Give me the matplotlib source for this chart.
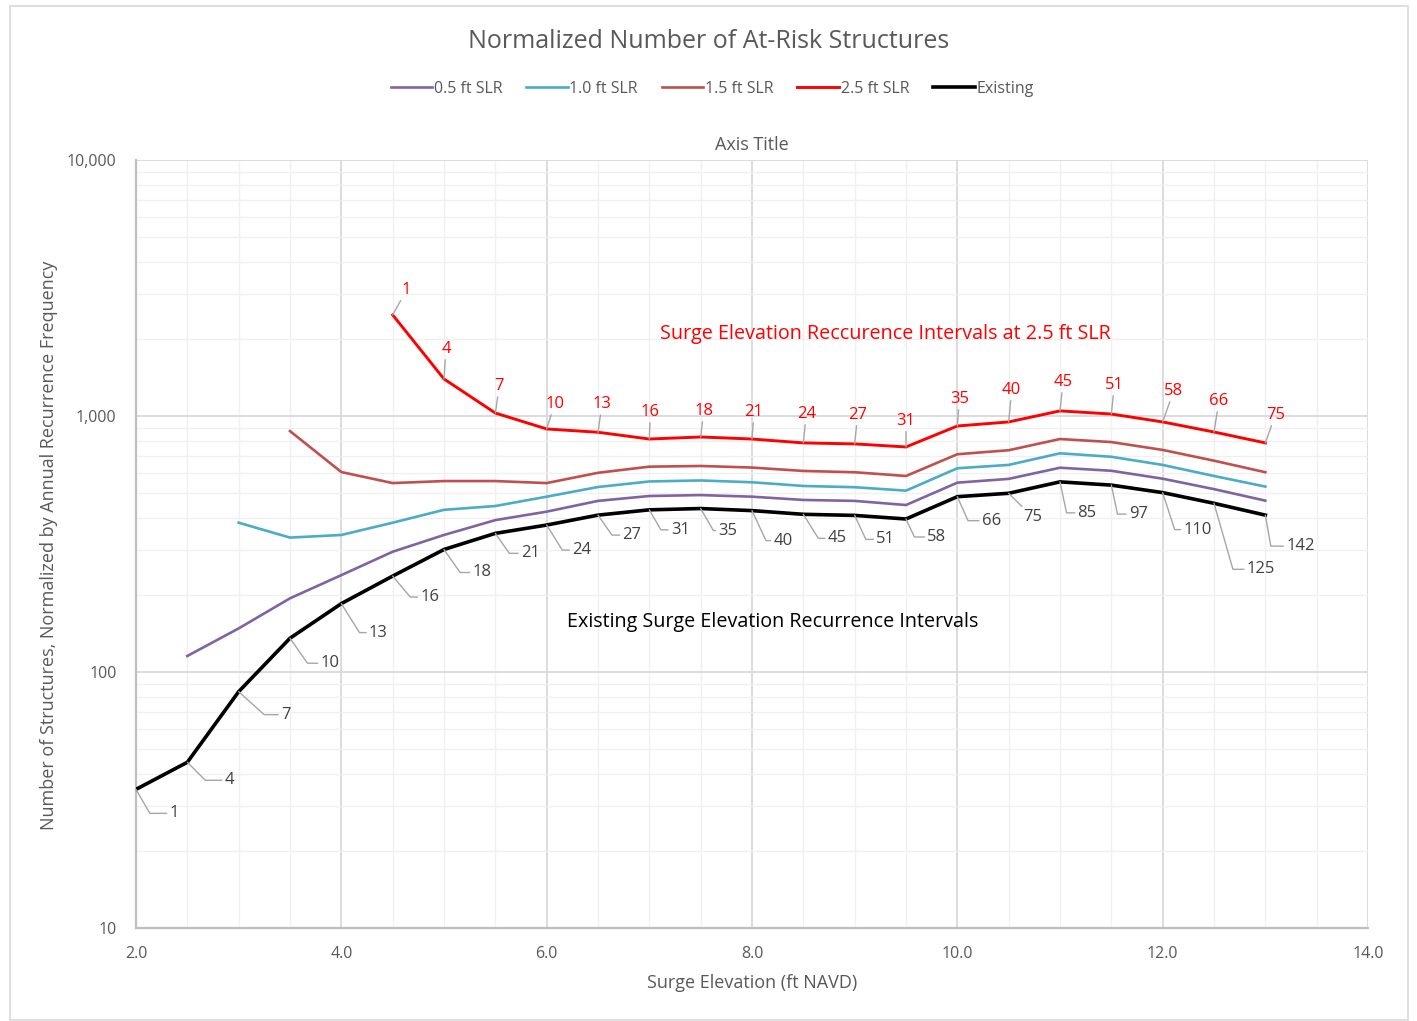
import math
import matplotlib
matplotlib.use("Agg")
import matplotlib.pyplot as plt
from matplotlib.ticker import FixedLocator, FuncFormatter, LogLocator, MultipleLocator, NullFormatter
from matplotlib.patches import Rectangle

plt.rcParams['font.family'] = ['Open Sans', 'DejaVu Sans']

# ---------------- data ----------------
x_existing = [2.0, 2.5, 3.0, 3.5, 4.0, 4.5, 5.0, 5.5, 6.0, 6.5, 7.0, 7.5,
              8.0, 8.5, 9.0, 9.5, 10.0, 10.5, 11.0, 11.5, 12.0, 12.5, 13.0]
existing = [34.8, 44.4, 83.8, 135.5, 185, 237, 301, 348, 375, 410, 430, 435,
            427, 413, 409, 396, 484, 499, 553, 537, 502, 456, 410]
existing_labels = ["1", "4", "7", "10", "13", "16", "18", "21", "24", "27", "31", "35",
                   "40", "45", "51", "58", "66", "75", "85", "97", "110", "125", "142"]

x_slr05 = [2.5, 3.0, 3.5, 4.0, 4.5, 5.0, 5.5, 6.0, 6.5, 7.0, 7.5,
           8.0, 8.5, 9.0, 9.5, 10.0, 10.5, 11.0, 11.5, 12.0, 12.5, 13.0]
slr05 = [115.5, 148, 194, 239, 295, 343, 392, 423, 466, 487, 491,
         484, 470, 466, 449, 549, 568, 628, 611, 569, 518, 467]

x_slr10 = [3.0, 3.5, 4.0, 4.5, 5.0, 5.5, 6.0, 6.5, 7.0, 7.5,
           8.0, 8.5, 9.0, 9.5, 10.0, 10.5, 11.0, 11.5, 12.0, 12.5, 13.0]
slr10 = [383, 335, 343, 383, 430, 445, 484, 528, 555, 560,
         551, 533, 527, 511, 625, 644, 715, 693, 644, 583, 530]

x_slr15 = [3.5, 4.0, 4.5, 5.0, 5.5, 6.0, 6.5, 7.0, 7.5,
           8.0, 8.5, 9.0, 9.5, 10.0, 10.5, 11.0, 11.5, 12.0, 12.5, 13.0]
slr15 = [873, 604, 547, 557, 557, 547, 600, 634, 638,
         629, 610, 603, 583, 709, 735, 813, 791, 737, 669, 603]

x_slr25 = [4.5, 5.0, 5.5, 6.0, 6.5, 7.0, 7.5,
           8.0, 8.5, 9.0, 9.5, 10.0, 10.5, 11.0, 11.5, 12.0, 12.5, 13.0]
slr25 = [2483, 1395, 1027, 890, 864, 813, 828,
         813, 785, 778, 757, 914, 948, 1047, 1018, 948, 866, 785]
slr25_labels = ["1", "4", "7", "10", "13", "16", "18", "21", "24", "27", "31",
                "35", "40", "45", "51", "58", "66", "75"]

series_names = ["0.5 ft SLR", "1.0 ft SLR", "1.5 ft SLR", "2.5 ft SLR", "Existing"]
y_ticks = [10, 100, 1000, 10000]
x_ticks = [2.0, 4.0, 6.0, 8.0, 10.0, 12.0, 14.0]

# ---------------- styling (label offsets in pixels) ----------------
existing_offsets = [(38, -24), (42, -18), (47, -23), (40, -25), (37, -29), (37, -21),
                    (38, -23), (35, -20), (35, -25), (34, -20), (31, -20), (27, -22),
                    (31, -30), (34, -24), (31, -24), (31, -18), (34, -24), (24, -24),
                    (27, -31), (27, -29), (35, -37), (47, -66), (35, -31)]
existing_angles = [60, 45, 42, 55, 58, 50, 55, 55, 58, 55, 60, 60,
                   65, 58, 65, 65, 66, None, 78, 78, 72, 74, 80]
slr25_offsets = [(14, 25), (2, 30), (4, 27), (8, 25), (4, 28), (1, 27), (3, 26), (2, 27),
                 (3, 29), (3, 29), (0, 26), (2, 27), (3, 32), (3, 29), (3, 29), (11, 31),
                 (5, 31), (10, 28)]

W, H = 1417, 1021
fig = plt.figure(figsize=(W / 100, H / 100), dpi=100)
fig.patch.set_facecolor("white")
fig.patches.append(Rectangle((10 / W, 1 - 1020 / H), 1398 / W, 1014 / H,
                             transform=fig.transFigure, fill=False,
                             edgecolor="#D9D9D9", linewidth=1.2, zorder=0))

ax = fig.add_axes([136 / W, 1 - 928 / H, (1368 - 136) / W, (928 - 160) / H])
ax.set_yscale("log")
ax.set_xlim(2, 14)
ax.set_ylim(10, 10000)

colors = ["#8064A2", "#4BACC6", "#C0504D", "#FF0000", "#000000"]
widths = [1.9, 1.9, 1.9, 2.1, 2.6]
xs = [x_slr05, x_slr10, x_slr15, x_slr25, x_existing]
ys = [slr05, slr10, slr15, slr25, existing]
handles = []
for xv, yv, c, lw, name in zip(xs, ys, colors, widths, series_names):
    h, = ax.plot(xv, yv, color=c, lw=lw, label=name, zorder=3, solid_joinstyle="miter")
    handles.append(h)

# grid
ax.xaxis.set_major_locator(FixedLocator(x_ticks))
ax.xaxis.set_minor_locator(MultipleLocator(0.5))
ax.yaxis.set_major_locator(FixedLocator(y_ticks))
ax.yaxis.set_minor_locator(LogLocator(base=10, subs=range(2, 10)))
ax.yaxis.set_minor_formatter(NullFormatter())
ax.xaxis.set_major_formatter(FuncFormatter(lambda v, p: f"{v:.1f}"))
ax.yaxis.set_major_formatter(FuncFormatter(lambda v, p: f"{int(round(v)):,}"))
ax.grid(True, which="major", color="#D9D9D9", lw=1.3, zorder=0)
ax.grid(True, which="minor", color="#F0F0F0", lw=1.0, zorder=0)
ax.set_axisbelow(True)
ax.tick_params(which="both", length=0)
ax.tick_params(axis="y", pad=14, labelsize=11.5, labelcolor="#595959")
ax.tick_params(axis="x", pad=13, labelsize=11.5, labelcolor="#595959")
for s in ["top", "right"]:
    ax.spines[s].set_visible(False)
for s in ["left", "bottom"]:
    ax.spines[s].set_color("#BFBFBF")
    ax.spines[s].set_linewidth(1.6)

ax.set_xlabel("Surge Elevation (ft NAVD)", fontsize=13, color="#595959")
ax.xaxis.set_label_coords((752 - 136) / 1232, -(983 - 928) / 768)
ax.set_ylabel("Number of Structures, Normalized by Annual Recurrence Frequency",
              fontsize=13, color="#595959")
ax.yaxis.set_label_coords(-(136 - 49) / 1232, (928 - 545) / 768)
ax.xaxis.label.set_va("center")
ax.yaxis.label.set_va("center")

# existing labels with elbow leaders
for xv, yv, lab, off, ang in zip(x_existing, existing, existing_labels,
                                 existing_offsets, existing_angles):
    if ang is None:
        cs = "arc3"
    else:
        cs = f"angle,angleA=0,angleB={-ang},rad=0"
    ax.annotate(lab, xy=(xv, yv), xytext=off, textcoords="offset pixels",
                ha="center", va="center", fontsize=12, color="#404040", zorder=4,
                arrowprops=dict(arrowstyle="-", color="#A6A6A6", lw=1.0,
                                connectionstyle=cs, shrinkA=0, shrinkB=0))

# 2.5 ft labels
for xv, yv, lab, off in zip(x_slr25, slr25, slr25_labels, slr25_offsets):
    ax.annotate(lab, xy=(xv, yv), xytext=off, textcoords="offset pixels",
                ha="center", va="center", fontsize=12, color="#FF0000", zorder=4,
                arrowprops=dict(arrowstyle="-", color="#A6A6A6", lw=1.0,
                                shrinkA=0, shrinkB=0))

fig.text(885 / W, 1 - 334 / H, "Surge Elevation Reccurence Intervals at 2.5 ft SLR",
         ha="center", va="center", fontsize=14.2, color="#FF0000")
fig.text(773 / W, 1 - 622 / H, "Existing Surge Elevation Recurrence Intervals",
         ha="center", va="center", fontsize=14.2, color="#000000")
fig.text(752 / W, 1 - 145 / H, "Axis Title", ha="center", va="center",
         fontsize=13, color="#595959")
fig.text(709 / W, 1 - 41 / H, "Normalized Number of At-Risk Structures",
         ha="center", va="center", fontsize=18, color="#595959")

leg = fig.legend(handles=handles, labels=series_names, loc="center",
                 bbox_to_anchor=(712 / W, 1 - 89 / H), ncol=5, frameon=False,
                 fontsize=11.5, handlelength=2.6, handletextpad=0.1,
                 columnspacing=1.5, labelcolor="#595959")

fig.savefig("out.png", dpi=100, facecolor="white")
